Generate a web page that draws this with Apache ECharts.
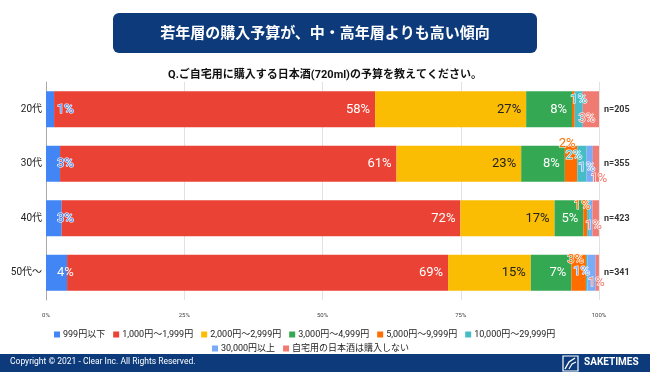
<!DOCTYPE html>
<html>
<head>
<meta charset="utf-8">
<script src="https://cdn.jsdelivr.net/npm/echarts@6/dist/echarts.min.js"></script>
<style>
html,body{margin:0;padding:0;background:#fff;}
#c{width:650px;height:372px;}
</style>
</head>
<body>
<div id="c"></div>
<script>
// ---- data ----
const categories = ['20代', '30代', '40代', '50代〜'];
const sampleSizes = ['n=205', 'n=355', 'n=423', 'n=341'];
const seriesNames = ['999円以下', '1,000円〜1,999円', '2,000円〜2,999円', '3,000円〜4,999円', '5,000円〜9,999円', '10,000円〜29,999円', '30,000円以上', '自宅用の日本酒は購入しない'];
const under999 = [1.46, 2.54, 2.84, 3.81];
const yen1000 = [58.05, 60.85, 72.1, 68.9];
const yen2000 = [27.32, 22.54, 17.02, 14.96];
const yen3000 = [8.29, 7.89, 5.2, 7.33];
const yen5000 = [0.49, 2.25, 0.71, 2.64];
const yen10000 = [1.46, 1.69, 0.47, 0.29];
const over30000 = [0, 1.13, 0.47, 1.47];
const noPurchase = [2.93, 1.13, 1.18, 0.59];
const xTicks = [0, 25, 50, 75, 100];
const titleText = '若年層の購入予算が、中・高年層よりも高い傾向';
const subtitleText = 'Q.ご自宅用に購入する日本酒(720ml)の予算を教えてください。';
const copyrightText = 'Copyright © 2021 - Clear Inc. All Rights Reserved.';

// ---- styles ----
const seriesValues = [under999, yen1000, yen2000, yen3000, yen5000, yen10000, over30000, noPurchase];
const colors = ['#4285F4', '#EA4335', '#FBBC04', '#34A853', '#FF6D01', '#46BDC6', '#7BAAF7', '#F07B72'];
const NAVY = '#0C3A7B';
const FONT = "Roboto, 'Noto Sans CJK JP', sans-serif";
// label offsets for small segments (relative to segment centre)
const smallOffsets = {
  4: [null, [-4, -20], [-3, -13], [-3, -13]],
  5: [[0, -10], [-8, -8], null, null],
  6: [null, [-3, 4], null, [-10, -1]],
  7: [[-4, 9], [3, 15], [-2, 7], [-1, 10]]
};

const series = seriesValues.map((vals, si) => ({
  name: seriesNames[si],
  type: 'bar',
  stack: 'total',
  barWidth: 36,
  itemStyle: { color: colors[si] },
  emphasis: { disabled: true },
  data: vals.map((v, ci) => {
    const show = v >= 0.55;
    const small = v < 3;
    let label;
    if (!show) {
      label = { show: false };
    } else if (si === 0) {
      label = {
        show: true, position: 'insideLeft', offset: [6, 0],
        color: small ? colors[si] : '#fff',
        textBorderColor: small ? '#fff' : 'transparent',
        textBorderWidth: small ? 1.2 : 0
      };
    } else if (!small) {
      label = {
        show: true, position: 'insideRight',
        color: si === 2 ? '#222' : '#fff',
        textBorderWidth: 0
      };
    } else {
      const off = (smallOffsets[si] && smallOffsets[si][ci]) || [0, 0];
      label = {
        show: true, position: 'inside', offset: off,
        color: colors[si], textBorderColor: '#fff', textBorderWidth: 1.2
      };
    }
    label.fontSize = 13;
    label.fontFamily = FONT;
    label.formatter = () => Math.round(v) + '%';
    return { value: v, label: label };
  })
}));

const chart = echarts.init(document.getElementById('c'), null, { renderer: 'canvas' });
chart.setOption({
  animation: false,
  backgroundColor: '#fff',
  title: [
    { text: titleText, left: 'center', top: 22, textStyle: { color: '#fff', fontSize: 15, fontWeight: 'bold', fontFamily: FONT } },
    { text: subtitleText, left: 'center', top: 65, textStyle: { color: '#111', fontSize: 11, fontWeight: 'bold', fontFamily: FONT } }
  ],
  legend: [
    {
      data: seriesNames.slice(0, 6), left: 49, top: 325, orient: 'horizontal',
      itemWidth: 6, itemHeight: 6, itemGap: 8, icon: 'rect', selectedMode: false,
      textStyle: { fontSize: 9, color: '#222', fontFamily: FONT, padding: [0, 0, 0, -2] }
    },
    {
      data: seriesNames.slice(6), left: 207, top: 339, orient: 'horizontal',
      itemWidth: 6, itemHeight: 6, itemGap: 8, icon: 'rect', selectedMode: false,
      textStyle: { fontSize: 9, color: '#222', fontFamily: FONT, padding: [0, 0, 0, -2] }
    }
  ],
  grid: { left: 46, right: 51, top: 82, height: 218, containLabel: false },
  xAxis: {
    type: 'value', min: xTicks[0], max: xTicks[xTicks.length - 1], interval: 25,
    axisLine: { show: false }, axisTick: { show: false },
    splitLine: { show: true, lineStyle: { color: '#e2e2e2', width: 1 } },
    axisLabel: { formatter: v => xTicks.includes(v) ? v + '%' : '', fontSize: 6, color: '#444', margin: 12, fontFamily: FONT }
  },
  yAxis: [
    {
      type: 'category', data: categories, inverse: true,
      axisLine: { show: true, lineStyle: { color: '#aaa' } }, axisTick: { show: false },
      axisLabel: { fontSize: 10, color: '#222', margin: 4, fontFamily: FONT }
    },
    {
      type: 'category', data: sampleSizes, inverse: true, position: 'right',
      axisLine: { show: false }, axisTick: { show: false },
      axisLabel: { fontSize: 9, color: '#333', fontWeight: 'bold', margin: 5, fontFamily: FONT }
    }
  ],
  graphic: [
    { type: 'rect', z: -1, shape: { x: 113, y: 13, width: 424, height: 40, r: 6 }, style: { fill: NAVY } },
    { type: 'rect', z: -1, shape: { x: 0, y: 354, width: 650, height: 18 }, style: { fill: NAVY } },
    { type: 'text', left: 10, top: 358, style: { text: copyrightText, fill: '#fff', font: "8.5px " + FONT } },
    { type: 'rect', shape: { x: 563, y: 356, width: 15, height: 15 }, style: { fill: 'none', stroke: '#fff', lineWidth: 1.2 } },
    { type: 'polyline', shape: { points: [[565, 369], [569, 362], [575, 358]] }, style: { fill: 'none', stroke: '#fff', lineWidth: 1.4 } },
    { type: 'polyline', shape: { points: [[569, 369], [572, 364], [576, 362]] }, style: { fill: 'none', stroke: '#fff', lineWidth: 1.2 } },
    { type: 'text', left: 584, top: 357, style: { text: 'SAKETIMES', fill: '#fff', font: "bold 10px " + FONT } }
  ],
  series: series
});
</script>
</body>
</html>
